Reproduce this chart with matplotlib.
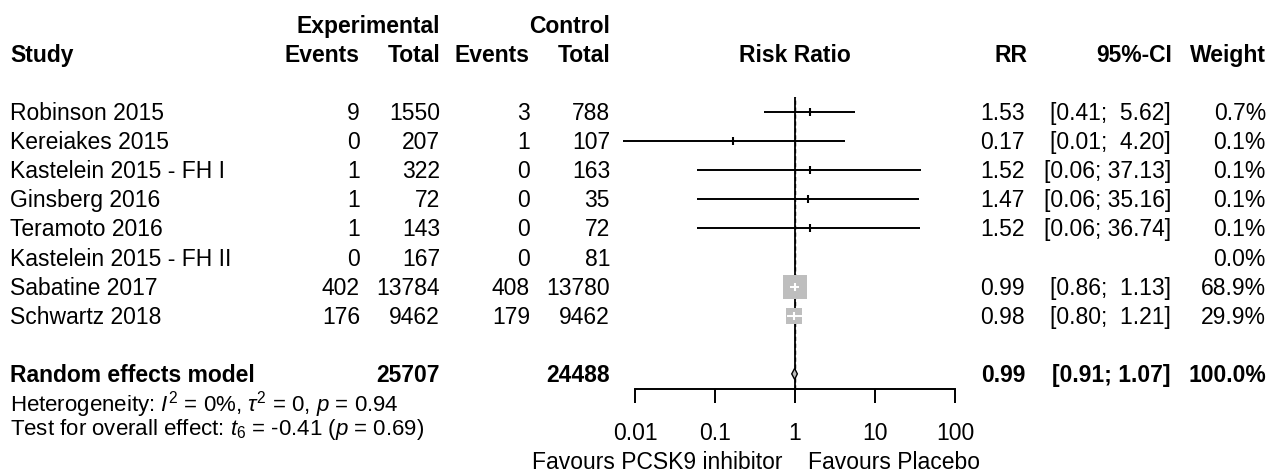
import numpy as np
import matplotlib
matplotlib.use("Agg")
import matplotlib.pyplot as plt
from matplotlib.patches import Polygon

plt.rcParams["font.family"] = "Liberation Sans"
plt.rcParams["mathtext.fontset"] = "custom"
plt.rcParams["mathtext.rm"] = "Liberation Sans"
plt.rcParams["mathtext.it"] = "Liberation Sans:italic"
plt.rcParams["mathtext.bf"] = "Liberation Sans:bold"

# Trial data
studies = ["Robinson 2015", "Kereiakes 2015", "Kastelein 2015 - FH I", "Ginsberg 2016",
           "Teramoto 2016", "Kastelein 2015 - FH II", "Sabatine 2017", "Schwartz 2018"]
ev_exp = [9, 0, 1, 1, 1, 0, 402, 176]
n_exp = [1550, 207, 322, 72, 143, 167, 13784, 9462]
ev_ctl = [3, 1, 0, 0, 0, 0, 408, 179]
n_ctl = [788, 107, 163, 35, 72, 81, 13780, 9462]
rr = [1.53, 0.17, 1.52, 1.47, 1.52, None, 0.99, 0.98]
ci_lo = [0.41, 0.007, 0.06, 0.06, 0.06, None, 0.86, 0.80]
ci_hi = [5.62, 4.20, 37.13, 35.16, 36.74, None, 1.13, 1.21]
weight = [0.7, 0.1, 0.1, 0.1, 0.1, 0.0, 68.9, 29.9]

# random effects estimate
pooled = (0.99, 0.91, 1.07)
pooled_weight = 100.0
het_text = r"Heterogeneity: $I^2$ = 0%, $\tau^2$ = 0, $p$ = 0.94"
test_text = r"Test for overall effect: $t_6$ = -0.41 ($p$ = 0.69)"
ticks = [0.01, 0.1, 1, 10, 100]
tick_labels = ["0.01", "0.1", "1", "10", "100"]

W, H = 1269, 472
FS = 16.5
fig = plt.figure(figsize=(W / 100, H / 100), dpi=100)


def txt(x, y, s, ha="left", bold=False, size=FS):
    fig.text(x / W, 1 - y / H, s, ha=ha, va="baseline", fontsize=size,
             fontweight="bold" if bold else "normal")


# row centres in pixels
ROW0, STEP = 112, 29.1
POOL_ROW = len(studies) + 1


def row_px(r):
    return ROW0 + STEP * r


# forest panel
top_px, bot_px = 97, 389
ax = fig.add_axes([635 / W, 1 - bot_px / H, 320 / W, (bot_px - top_px) / H])
ax.set_xscale("log")
ax.set_xlim(0.01, 100)
ax.set_ylim((bot_px - ROW0) / STEP, (top_px - ROW0) / STEP)
for s in ["top", "left", "right"]:
    ax.spines[s].set_visible(False)
ax.spines["bottom"].set_linewidth(1.4)
ax.set_yticks([])
ax.set_xticks(ticks)
ax.set_xticklabels(tick_labels)
ax.xaxis.set_minor_locator(matplotlib.ticker.NullLocator())
ax.tick_params(axis="x", direction="out", length=10, width=1.4, pad=14, labelsize=FS)
ax.patch.set_visible(False)

ax.axvline(1, color="black", lw=1.3, zorder=1)
ax.axvline(pooled[0], color="black", lw=1.0, ls=(0, (3, 2)), zorder=1)

px_per_dec = 320 / 4
k_side = 24 / np.sqrt(68.9)
for i in range(len(studies)):
    if rr[i] is None:
        continue
    side = k_side * np.sqrt(weight[i])
    half_dec = side / 2 / px_per_dec
    inside = (np.log10(rr[i]) - np.log10(ci_lo[i]) < half_dec and
              np.log10(ci_hi[i]) - np.log10(rr[i]) < half_dec)
    col = "white" if inside else "black"
    ax.scatter([rr[i]], [i], marker="s", s=(side * 0.72) ** 2, color="#bebebe",
               linewidths=0, zorder=3)
    ax.plot([ci_lo[i], ci_hi[i]], [i, i], color=col, lw=1.4, zorder=4, clip_on=False,
            solid_capstyle="butt")
    ax.plot([rr[i]], [i], marker="|", ms=5.5, mew=1.5, color=col, zorder=5)

# pooled diamond
est, lo, hi = pooled
h = 5.5 / STEP
ax.add_patch(Polygon([(lo, POOL_ROW), (est, POOL_ROW - h), (hi, POOL_ROW), (est, POOL_ROW + h)],
                     closed=True, facecolor="#bebebe", edgecolor="black", lw=1.0, zorder=6))

# column positions (right edges, pixels)
X_STUDY, X_EVE, X_NE, X_EVC, X_NC = 10, 360, 440, 530, 610
X_RR, X_CI, X_W = 1025, 1171, 1266
BASE = 8

# headers
txt(X_NE, 33, "Experimental", ha="right", bold=True)
txt(X_NC, 33, "Control", ha="right", bold=True)
txt(X_STUDY, 62, "Study", bold=True)
txt(X_EVE, 62, "Events", ha="right", bold=True)
txt(X_NE, 62, "Total", ha="right", bold=True)
txt(X_EVC, 62, "Events", ha="right", bold=True)
txt(X_NC, 62, "Total", ha="right", bold=True)
txt(795, 62, "Risk Ratio", ha="center", bold=True)
txt(X_RR + 2, 62, "RR", ha="right", bold=True)
txt(X_CI + 1, 62, "95%-CI", ha="right", bold=True)
txt(X_W, 62, "Weight", ha="right", bold=True)

# study rows
for i, name in enumerate(studies):
    y = row_px(i) + BASE
    txt(X_STUDY, y, name)
    txt(X_EVE, y, str(ev_exp[i]), ha="right")
    txt(X_NE, y, str(n_exp[i]), ha="right")
    txt(X_EVC, y, str(ev_ctl[i]), ha="right")
    txt(X_NC, y, str(n_ctl[i]), ha="right")
    if rr[i] is not None:
        txt(X_RR, y, f"{rr[i]:.2f}", ha="right")
        txt(X_CI, y, f"[{ci_lo[i]:.2f}; {ci_hi[i]:5.2f}]", ha="right")
    txt(X_W, y, f"{weight[i]:.1f}%", ha="right")

# pooled row
y = row_px(POOL_ROW) + BASE
txt(X_STUDY, y, "Random effects model", bold=True)
txt(X_NE, y, str(sum(n_exp)), ha="right", bold=True)
txt(X_NC, y, str(sum(n_ctl)), ha="right", bold=True)
txt(X_RR, y, f"{est:.2f}", ha="right", bold=True)
txt(X_CI, y, f"[{lo:.2f}; {hi:.2f}]", ha="right", bold=True)
txt(X_W, y, f"{pooled_weight:.1f}%", ha="right", bold=True)

txt(X_STUDY, 412, het_text, size=16)
txt(X_STUDY, 435, test_text, size=16)

txt(782, 469, "Favours PCSK9 inhibitor", ha="right")
txt(808, 469, "Favours Placebo")

fig.savefig("out.png", dpi=100)
